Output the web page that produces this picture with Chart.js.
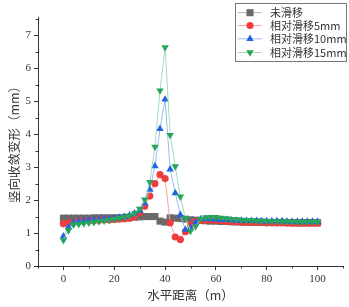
<!DOCTYPE html>
<html><head><meta charset="utf-8">
<script src="https://cdn.jsdelivr.net/npm/chart.js@4/dist/chart.umd.min.js"></script>
<style>html,body{margin:0;padding:0;background:#fff;}#wrap{width:349px;height:307px;}</style>
</head><body><div id="wrap"><canvas id="c" width="349" height="307"></canvas></div>
<script>
const xValues = [0,2,4,6,8,10,12,14,16,18,20,22,24,26,28,30,32,34,36,38,40,42,44,46,48,50,52,54,56,58,60,62,64,66,68,70,72,74,76,78,80,82,84,86,88,90,92,94,96,98,100];
const seriesNames = ['未滑移','相对滑移5mm','相对滑移10mm','相对滑移15mm'];
const noSlip = [1.45,1.45,1.45,1.45,1.45,1.45,1.46,1.46,1.46,1.46,1.46,1.46,1.47,1.47,1.48,1.49,1.50,1.50,1.50,1.36,1.33,1.46,1.45,1.44,1.42,1.40,1.39,1.38,1.37,1.36,1.36,1.35,1.35,1.34,1.34,1.34,1.33,1.33,1.33,1.33,1.32,1.32,1.32,1.32,1.32,1.31,1.31,1.31,1.31,1.31,1.31];
const slip5 = [1.28,1.30,1.33,1.35,1.36,1.37,1.38,1.39,1.40,1.40,1.41,1.42,1.43,1.45,1.50,1.62,1.81,2.12,2.50,2.77,2.65,1.31,0.88,0.80,1.04,1.25,1.35,1.38,1.39,1.39,1.38,1.37,1.36,1.35,1.34,1.33,1.33,1.32,1.32,1.32,1.31,1.31,1.31,1.31,1.30,1.30,1.30,1.30,1.30,1.30,1.30];
const slip10 = [0.90,1.18,1.33,1.35,1.37,1.39,1.40,1.41,1.42,1.43,1.45,1.47,1.50,1.54,1.60,1.67,1.90,2.32,3.03,4.16,5.05,2.93,2.21,1.55,1.10,1.15,1.32,1.42,1.43,1.42,1.41,1.40,1.40,1.39,1.38,1.38,1.37,1.37,1.37,1.36,1.36,1.36,1.36,1.36,1.35,1.35,1.35,1.35,1.35,1.35,1.35];
const slip15 = [0.78,1.08,1.25,1.27,1.29,1.31,1.33,1.35,1.37,1.40,1.42,1.45,1.48,1.53,1.60,1.73,2.01,2.54,3.61,5.32,6.63,3.97,3.02,2.10,1.45,1.06,1.20,1.42,1.47,1.48,1.48,1.46,1.44,1.42,1.41,1.40,1.39,1.38,1.37,1.37,1.36,1.36,1.35,1.35,1.35,1.34,1.34,1.34,1.34,1.34,1.34];
const xTicks = [0,20,40,60,80,100];
const xMinorTicks = [-10,10,30,50,70,90,110];
const yTicks = [0,1,2,3,4,5,6,7];
const yMinorTicks = [0.5,1.5,2.5,3.5,4.5,5.5,6.5,7.5];
const xTitle = '水平距离（m）';
const yTitle = '竖向收敛变形（mm）';

const toPts = arr => arr.map((v,i)=>({x:xValues[i], y:v}));
const styles = [
  {line:'#b4b4b4', mark:'#6a6a6a', shape:'rect', r:5, rot:0, order:4},
  {line:'#f5a3a3', mark:'#f03c3c', shape:'circle', r:3.6, rot:0, order:3},
  {line:'#9dbbef', mark:'#1f66e0', shape:'triangle', r:4.3, rot:0, order:2},
  {line:'#a6dcb8', mark:'#25a55a', shape:'triangle', r:4.3, rot:180, order:1}
];
const dataArrays = [noSlip, slip5, slip10, slip15];
const datasets = dataArrays.map((arr,i)=>({
  label: seriesNames[i], data: toPts(arr),
  borderColor: styles[i].line, borderWidth: 1,
  pointStyle: styles[i].shape, pointRadius: styles[i].r, pointRotation: styles[i].rot,
  pointBackgroundColor: styles[i].mark, pointBorderColor: styles[i].mark, pointBorderWidth: 0,
  order: styles[i].order, tension: 0
}));

const serif = '"Liberation Serif","DejaVu Serif",serif';
const cjk = '"Noto Sans CJK SC","Noto Sans",sans-serif';

const extras = {
  id:'extras',
  afterDraw(chart){
    const ctx = chart.ctx, xs = chart.scales.x, ys = chart.scales.y, ca = chart.chartArea;
    ctx.save();
    ctx.strokeStyle = '#333'; ctx.lineWidth = 1;
    ctx.beginPath();
    xMinorTicks.forEach(v=>{ const p = Math.round(xs.getPixelForValue(v))+0.5; ctx.moveTo(p, ca.bottom); ctx.lineTo(p, ca.bottom+2.5); });
    yMinorTicks.forEach(v=>{ const p = Math.round(ys.getPixelForValue(v))+0.5; ctx.moveTo(ca.left, p); ctx.lineTo(ca.left-2.5, p); });
    ctx.stroke();
    // legend
    const bx = 235.5, by = 3.5, bw = 111, bh = 58;
    ctx.fillStyle = '#fff'; ctx.fillRect(bx, by, bw, bh);
    ctx.strokeStyle = '#777'; ctx.strokeRect(bx, by, bw, bh);
    const rows = [12.7, 25.5, 38.8, 52.5];
    chart.data.datasets.forEach((ds,i)=>{
      const y = rows[i];
      ctx.strokeStyle = ds.borderColor; ctx.lineWidth = 1;
      ctx.beginPath(); ctx.moveTo(238, y); ctx.lineTo(262, y); ctx.stroke();
      ctx.fillStyle = ds.pointBackgroundColor; ctx.strokeStyle = ds.pointBorderColor;
      Chart.helpers.drawPoint(ctx, {pointStyle: ds.pointStyle, radius: ds.pointRadius, rotation: ds.pointRotation, borderWidth: 0}, 250, y);
      ctx.fillStyle = '#333'; ctx.font = '11px ' + cjk; ctx.textBaseline = 'middle'; ctx.textAlign = 'left';
      ctx.fillText(ds.label, 270, y);
    });
    ctx.restore();
  }
};

new Chart(document.getElementById('c'), {
  type:'line',
  data:{datasets},
  options:{
    responsive:false, animation:false, devicePixelRatio:1,
    layout:{padding:{top:17, right:6, left:0, bottom:0}},
    plugins:{legend:{display:false}, tooltip:{enabled:false}},
    scales:{
      x:{type:'linear', min:-10, max:110,
        afterBuildTicks: s=>{ s.ticks = xTicks.map(v=>({value:v})); },
        afterFit: s=>{ s.height = 41; },
        grid:{drawOnChartArea:false, drawTicks:true, tickLength:4, tickColor:'#333'},
        border:{display:true, color:'#333', width:1},
        ticks:{font:{family:serif, size:11}, color:'#333', padding:3, maxRotation:0},
        title:{display:true, text:xTitle, font:{family:cjk, size:12.5}, color:'#333', padding:{top:2,bottom:4}}
      },
      y:{type:'linear', min:0, max:7.55,
        afterBuildTicks: s=>{ s.ticks = yTicks.map(v=>({value:v})); },
        afterFit: s=>{ s.width = 38; },
        grid:{drawOnChartArea:false, drawTicks:true, tickLength:4, tickColor:'#333'},
        border:{display:true, color:'#333', width:1},
        ticks:{font:{family:serif, size:11}, color:'#333', padding:3},
        title:{display:true, text:yTitle, font:{family:cjk, size:12.5}, color:'#333', padding:{top:7,bottom:2}}
      }
    }
  },
  plugins:[extras]
});
</script></body></html>
